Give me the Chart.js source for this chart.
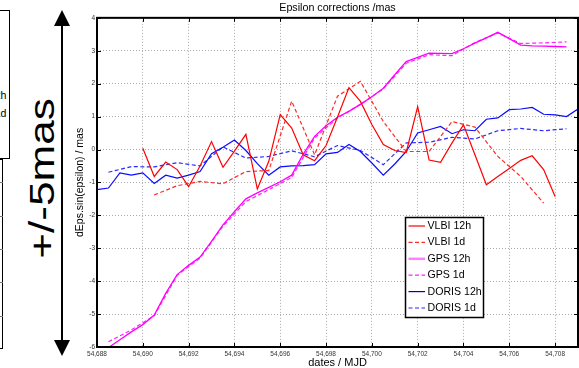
<!DOCTYPE html>
<html>
<head>
<meta charset="utf-8">
<script src="https://cdn.jsdelivr.net/npm/chart.js@4.4.0/dist/chart.umd.min.js"></script>
<style>
  html, body { margin: 0; padding: 0; background: #fff; }
  #wrap { position: relative; width: 579px; height: 368px; overflow: hidden; font-family: "Liberation Sans", Arial, sans-serif; }
  #chartCanvas { position: absolute; left: 0; top: 0; }
  .abs { position: absolute; }
  .leftTxt { position: absolute; right: 572.5px; font-size: 10.6px; line-height: 12px; white-space: nowrap; color: #000; }
  #bigTxt { position: absolute; left: 40.5px; top: 178px; width: 200px; height: 35px; margin-left: -100px; margin-top: -17.5px;
            text-align: center; font-size: 35px; line-height: 35px; white-space: nowrap; color: #000;
            transform: rotate(-90deg) scaleX(1.26); }
</style>
</head>
<body>
<div id="wrap">
  <!-- cropped neighbour panel on the far left -->
  <div class="abs" style="left:-2px; top:10px; width:10px; height:147px; border:1px solid #000;"></div>
  <div class="leftTxt" style="top:89px;">DORIS 12h</div>
  <div class="leftTxt" style="top:106.5px;">DORIS 1d</div>
  <div class="abs" style="left:-1px; top:159px; width:3px; height:188px; border:1px solid #000; border-left:none;"></div>
  <div class="abs" style="left:0; top:182px; width:3px; height:1px; background:#777;"></div>
  <div class="abs" style="left:0; top:216px; width:3px; height:1px; background:#777;"></div>
  <div class="abs" style="left:0; top:249px; width:3px; height:1px; background:#777;"></div>
  <div class="abs" style="left:0; top:282px; width:3px; height:1px; background:#777;"></div>
  <div class="abs" style="left:0; top:316px; width:3px; height:1px; background:#777;"></div>

  <svg class="abs" style="left:0; top:0;" width="579" height="368">
    <line x1="62" y1="22" x2="62" y2="344" stroke="#000" stroke-width="2"/>
    <polygon points="62,10 54,26 70,26" fill="#000"/>
    <polygon points="62,356 54,340 70,340" fill="#000"/>
  </svg>
  <div id="bigTxt">+/-5mas</div>

  <canvas id="chartCanvas" width="579" height="368"></canvas>
</div>
<script>
// epochs (MJD) of the 12h solutions
const mjd12h = [54688, 54688.5, 54689, 54689.5, 54690, 54690.5, 54691, 54691.5, 54692, 54692.5,
  54693, 54693.5, 54694, 54694.5, 54695, 54695.5, 54696, 54696.5, 54697, 54697.5,
  54698, 54698.5, 54699, 54699.5, 54700, 54700.5, 54701, 54701.5, 54702, 54702.5,
  54703, 54703.5, 54704, 54704.5, 54705, 54705.5, 54706, 54706.5, 54707, 54707.5,
  54708, 54708.5, 54709];
// epochs (MJD) of the 1d solutions
const mjd1d = [54688.5, 54689.5, 54690.5, 54691.5, 54692.5, 54693.5, 54694.5, 54695.5, 54696.5, 54697.5,
  54698.5, 54699.5, 54700.5, 54701.5, 54702.5, 54703.5, 54704.5, 54705.5, 54706.5, 54707.5, 54708.5];

const vlbi12h = [null, null, null, null, 0.04, -0.82, -0.38, -0.61, -1.13, -0.5,
  0.24, -0.54, -0.05, 0.46, -1.2, -0.36, 1.06, 0.65, -0.16, -0.34,
  0.12, 0.99, 1.88, 1.46, 0.76, 0.15, -0.03, -0.09, 1.3, -0.32,
  -0.39, 0.2, 0.75, -0.16, -1.07, -0.82, -0.58, -0.33, -0.19, -0.61,
  -1.43, null, null];
const vlbi1d = [null, null, -1.38, -1.1, -0.97, -1.04, -0.67, -0.64, 1.47, -0.16,
  1.62, 2.07, 0.85, -0.06, -0.06, 0.85, 0.68, -0.21, -0.82, -1.63, null];

const gps12h = [null, -6.02, -5.78, -5.54, -5.32, -5.03, -4.37, -3.8, -3.52, -3.27,
  -2.79, -2.29, -1.89, -1.5, -1.32, -1.15, -0.98, -0.78, -0.15, 0.4,
  0.72, 0.98, 1.16, 1.37, 1.6, 1.86, 2.27, 2.67, 2.8, 2.93,
  2.92, 2.91, 3.06, 3.23, 3.39, 3.56, 3.37, 3.17, 3.15, 3.14,
  3.13, 3.12, null];
const gps1d = [-5.84, -5.48, -5.05, -3.82, -3.3, -2.33, -1.58, -1.22, -0.85, 0.35,
  0.96, 1.37, 1.84, 2.62, 2.88, 2.85, 3.25, 3.54, 3.22, 3.24, 3.27];

const doris12h = [-1.22, -1.17, -0.71, -0.78, -0.71, -1.03, -0.78, -0.87, -0.78, -0.67,
  -0.13, 0.07, 0.29, -0.03, -0.43, -0.78, -0.53, -0.5, -0.49, -0.46,
  -0.13, -0.09, 0.15, -0.06, -0.41, -0.78, -0.44, -0.06, 0.5, 0.6,
  0.7, 0.48, 0.6, 0.57, 0.92, 0.96, 1.21, 1.23, 1.28, 1.07,
  1.05, 1.0, 1.23];
const doris1d = [-0.69, -0.52, -0.53, -0.4, -0.5, 0.08, -0.26, -0.21, -0.04, -0.22,
  0.12, -0.03, -0.46, 0.2, 0.22, 0.37, 0.32, 0.57, 0.64, 0.57, 0.63];

const xTicks = [54688, 54690, 54692, 54694, 54696, 54698, 54700, 54702, 54704, 54706, 54708];
const yTicks = [-6, -5, -4, -3, -2, -1, 0, 1, 2, 3, 4];

const FONT = '"Liberation Sans", Arial, sans-serif';
Chart.defaults.font.family = FONT;

function pts(xs, ys){
  const out = [];
  for(let i=0;i<xs.length;i++) if(ys[i] !== null) out.push({x: xs[i], y: ys[i]});
  return out;
}
function fmtMjd(v){ return String(v).replace(/\B(?=(\d{3})+(?!\d))/g, ','); }

const DASH = [4, 2.5];

// box, inward ticks and legend drawn over the plot
const framePlugin = {
  id: 'frame',
  afterDatasetsDraw(chart){
    const ctx = chart.ctx;
    const a = chart.chartArea;
    const xs = chart.scales.x, ys = chart.scales.y;
    ctx.save();
    ctx.strokeStyle = '#000';
    ctx.lineWidth = 1;
    ctx.beginPath();
    for(const v of xTicks){
      const px = Math.round(xs.getPixelForValue(v)) + 0.5;
      ctx.moveTo(px, a.bottom); ctx.lineTo(px, a.bottom - 4);
      ctx.moveTo(px, a.top); ctx.lineTo(px, a.top + 4);
    }
    for(const v of yTicks){
      const py = Math.round(ys.getPixelForValue(v)) + 0.5;
      ctx.moveTo(a.left, py); ctx.lineTo(a.left + 4, py);
      ctx.moveTo(a.right, py); ctx.lineTo(a.right - 4, py);
    }
    ctx.stroke();
    ctx.lineWidth = 2;
    ctx.strokeRect(a.left, a.top, a.right - a.left, a.bottom - a.top);

    // legend box
    const L = {x: 405.5, y: 217.5, w: 78, h: 100};
    ctx.fillStyle = '#fff';
    ctx.fillRect(L.x, L.y, L.w, L.h);
    ctx.lineWidth = 1.5;
    ctx.strokeStyle = '#000';
    ctx.strokeRect(L.x, L.y, L.w, L.h);
    ctx.font = '10.6px ' + FONT;
    ctx.textBaseline = 'middle';
    ctx.textAlign = 'left';
    chart.data.datasets.forEach((ds, i) => {
      const y = 226 + i * 16.4;
      ctx.save();
      ctx.strokeStyle = ds.legendColor || ds.borderColor;
      ctx.lineWidth = ds.legendWidth || ds.borderWidth;
      ctx.setLineDash(ds.borderDash || []);
      ctx.beginPath();
      ctx.moveTo(408.5, y); ctx.lineTo(425, y);
      ctx.stroke();
      ctx.restore();
      ctx.fillStyle = '#000';
      ctx.fillText(ds.label, 427.5, y);
    });
    ctx.restore();
  }
};

const chart = new Chart(document.getElementById('chartCanvas').getContext('2d'), {
  type: 'line',
  data: {
    datasets: [
      { label: 'VLBI 12h', data: pts(mjd12h, vlbi12h), borderColor: '#ff0000', borderWidth: 1.2 },
      { label: 'VLBI 1d', data: pts(mjd1d, vlbi1d), borderColor: '#ff2a2a', borderWidth: 1.2, borderDash: DASH },
      { label: 'GPS 12h', data: pts(mjd12h, gps12h), borderColor: '#ff00ff', borderWidth: 1.3, legendColor: '#ff80ff', legendWidth: 2.5 },
      { label: 'GPS 1d', data: pts(mjd1d, gps1d), borderColor: '#ff22ff', borderWidth: 1.2, borderDash: DASH },
      { label: 'DORIS 12h', data: pts(mjd12h, doris12h), borderColor: '#0a0aff', borderWidth: 1.2, legendColor: '#0000cc' },
      { label: 'DORIS 1d', data: pts(mjd1d, doris1d), borderColor: '#2a2aff', borderWidth: 1.2, borderDash: DASH }
    ]
  },
  options: {
    responsive: false,
    devicePixelRatio: 1,
    animation: false,
    layout: { padding: { left: 0, right: 1, top: 0, bottom: 0 } },
    elements: { point: { radius: 0 }, line: { tension: 0 } },
    plugins: {
      legend: { display: false },
      tooltip: { enabled: false },
      title: {
        display: true, text: 'Epsilon corrections /mas', fullSize: false, color: '#000',
        font: { size: 10.7, weight: 'normal' }, padding: { top: 1.5, bottom: 3.5 }
      }
    },
    scales: {
      x: {
        type: 'linear', min: 54688, max: 54709,
        afterBuildTicks: s => { s.ticks = xTicks.map(v => ({ value: v })); },
        afterFit: s => { s.height = 21; },
        ticks: { callback: v => fmtMjd(v), font: { size: 6.5 }, color: '#333', padding: 3, maxRotation: 0, autoSkip: false },
        grid: { color: '#aaa', lineWidth: 1, drawTicks: false },
        border: { display: false, dash: [1, 2] },
        title: { display: true, text: 'dates / MJD', color: '#000', font: { size: 11, lineHeight: 1 }, padding: { top: 0, bottom: 0 } }
      },
      y: {
        type: 'linear', min: -6, max: 4,
        afterBuildTicks: s => { s.ticks = yTicks.map(v => ({ value: v })); },
        afterFit: s => { s.width = 97; },
        ticks: { font: { size: 6.5 }, color: '#333', padding: 2 },
        grid: { color: '#aaa', lineWidth: 1, drawTicks: false },
        border: { display: false, dash: [1, 2] },
        title: { display: true, text: 'dEps.sin(epsilon) / mas', color: '#000', font: { size: 10.5 }, padding: { top: 73.7, bottom: 0 } }
      }
    }
  },
  plugins: [framePlugin]
});
</script>
</body>
</html>
